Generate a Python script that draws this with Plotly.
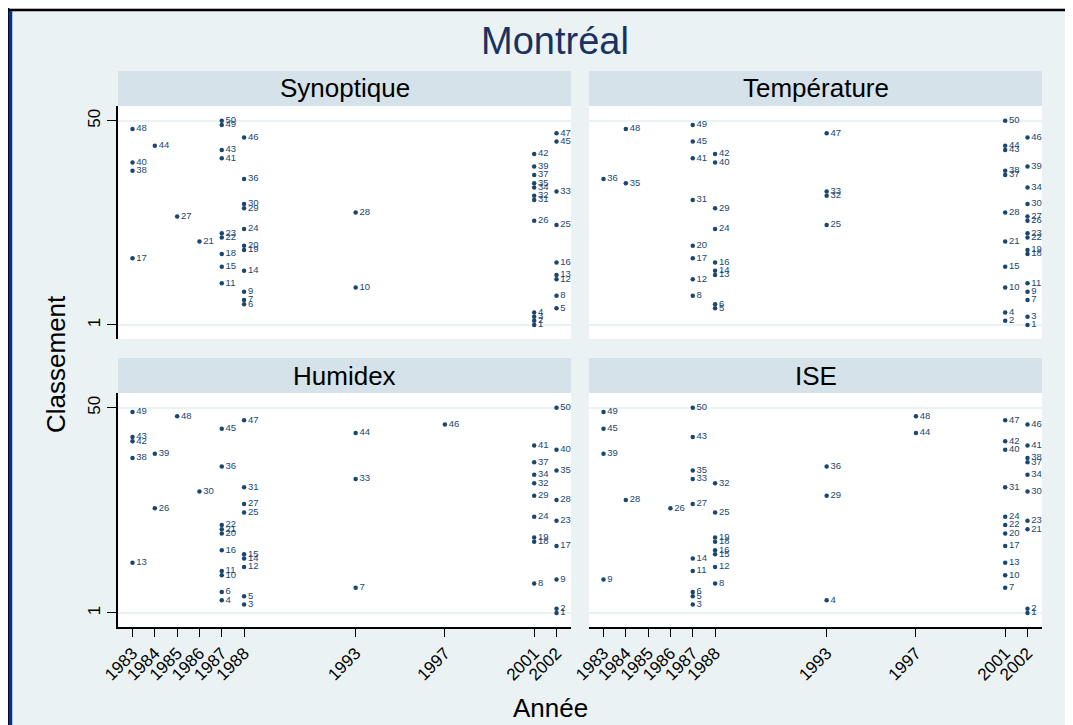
import plotly.graph_objects as go

# ---------------- data ----------------
rank = [1, 2, 3, 4, 5, 6, 7, 8, 9, 10,
        11, 12, 13, 14, 15, 16, 17, 18, 19, 20,
        21, 22, 23, 24, 25, 26, 27, 28, 29, 30,
        31, 32, 33, 34, 35, 36, 37, 38, 39, 40,
        41, 42, 43, 44, 45, 46, 47, 48, 49, 50]

synoptique_year = [2001, 2001, 2001, 2001, 2002, 1988, 1988, 2002, 1988, 1993,
                   1987, 2002, 2002, 1988, 1987, 2002, 1983, 1987, 1988, 1988,
                   1986, 1987, 1987, 1988, 2002, 2001, 1985, 1993, 1988, 1988,
                   2001, 2001, 2002, 2001, 2001, 1988, 2001, 1983, 2001, 1983,
                   1987, 2001, 1987, 1984, 2002, 1988, 2002, 1983, 1987, 1987]

temperature_year = [2002, 2001, 2002, 2001, 1988, 1988, 2002, 1987, 2002, 2001,
                    2002, 1987, 1988, 1988, 2001, 1988, 1987, 2002, 2002, 1987,
                    2001, 2002, 2002, 1988, 1993, 2002, 2002, 2001, 1988, 2002,
                    1987, 1993, 1993, 2002, 1984, 1983, 2001, 2001, 2002, 1988,
                    1987, 1988, 2001, 2001, 1987, 2002, 1993, 1984, 1987, 2001]

humidex_year = [2002, 2002, 1988, 1987, 1988, 1987, 1993, 2001, 2002, 1987,
                1987, 1988, 1983, 1988, 1988, 1987, 2002, 2001, 2001, 1987,
                1987, 1987, 2002, 2001, 1988, 1984, 1988, 2002, 2001, 1986,
                1988, 2001, 1993, 2001, 2002, 1987, 2001, 1983, 1984, 2002,
                2001, 1983, 1983, 1993, 1987, 1997, 1988, 1985, 1983, 2002]

ise_year = [2002, 2002, 1987, 1993, 1987, 1987, 2001, 1988, 1983, 2001,
            1987, 1988, 2001, 1987, 1988, 1988, 2001, 1988, 1988, 2001,
            2002, 2001, 2002, 2001, 1988, 1986, 1987, 1984, 1993, 2002,
            2001, 1988, 1987, 2002, 1987, 1993, 2002, 2002, 1983, 2001,
            2002, 2001, 1987, 1997, 1983, 2002, 2001, 1997, 1983, 1987]

panel_titles = ["Synoptique", "Température", "Humidex", "ISE"]
tick_years = [1983, 1984, 1985, 1986, 1987, 1988, 1993, 1997, 2001, 2002]
tick_year_labels = ["1983", "1984", "1985", "1986", "1987", "1988", "1993", "1997", "2001", "2002"]
y_ticks = [1, 50]
y_tick_labels = ["1", "50"]

# ---------------- layout geometry ----------------
# the page body adds an 8px margin, so the figure is 8px smaller and
# positions below are given in screen pixels
OFF = 8
W, H = 1073 - OFF, 725 - OFF
BG = "rgb(234,242,243)"
STRIP = "rgb(214,226,233)"
NAVY = "rgb(26,71,111)"
FONT = "Liberation Sans, Arial, sans-serif"


def px_x(v):
    return (v - OFF) / W


def px_y(v):
    return 1 - (v - OFF) / H


cols = [(118, 571), (589, 1042)]
rows = [(106, 339), (393, 627)]
strip_h = 35

fig = go.Figure()

series = [synoptique_year, temperature_year, humidex_year, ise_year]
shapes = []
annotations = []

for i, (yrs, title) in enumerate(zip(series, panel_titles)):
    r, c = divmod(i, 2)
    n = "" if i == 0 else str(i + 1)
    fig.add_trace(go.Scatter(
        x=yrs, y=rank, text=[str(v) for v in rank],
        mode="markers+text", textposition="middle right",
        marker=dict(color=NAVY, size=4.5),
        textfont=dict(color=NAVY, size=9.5, family=FONT),
        xaxis="x" + n, yaxis="y" + n, showlegend=False, cliponaxis=False,
        hoverinfo="x+y",
    ))
    x0, x1 = cols[c]
    y0, y1 = rows[r]
    bottom = (r == 1)
    left = (c == 0)
    fig.layout["xaxis" + n] = dict(
        domain=[px_x(x0), px_x(x1)], anchor="y" + n, automargin=False,
        range=[1982.35, 2002.65], tickvals=tick_years, ticktext=tick_year_labels,
        showgrid=False, zeroline=False,
        showline=bottom, linecolor="black", linewidth=1.5,
        ticks="outside" if bottom else "", ticklen=8, tickwidth=1.2, tickcolor="black",
        showticklabels=bottom, tickangle=-45,
        tickfont=dict(size=17, color="black", family=FONT),
        fixedrange=True,
    )
    fig.layout["yaxis" + n] = dict(
        domain=[px_y(y1), px_y(y0)], anchor="x" + n, automargin=False,
        range=[-2.36, 53.53], tickvals=y_ticks, ticktext=y_tick_labels,
        showgrid=True, gridcolor=BG, gridwidth=1.5, zeroline=False,
        showline=left, linecolor="black", linewidth=1.5,
        ticks="outside" if left else "", ticklen=9, tickwidth=1.2, tickcolor="black",
        showticklabels=left, tickangle=-90,
        tickfont=dict(size=17, color="black", family=FONT),
        fixedrange=True,
    )
    # plot background
    shapes.append(dict(type="rect", xref="paper", yref="paper", layer="below",
                       x0=px_x(x0), x1=px_x(x1), y0=px_y(y1), y1=px_y(y0),
                       fillcolor="white", line=dict(width=0)))
    # strip
    shapes.append(dict(type="rect", xref="paper", yref="paper", layer="below",
                       x0=px_x(x0), x1=px_x(x1), y0=px_y(y0), y1=px_y(y0 - strip_h),
                       fillcolor=STRIP, line=dict(width=0)))
    annotations.append(dict(text=title, xref="paper", yref="paper",
                            x=px_x((x0 + x1) / 2), y=px_y(y0 - strip_h / 2),
                            showarrow=False, xanchor="center", yanchor="middle",
                            font=dict(size=26, color="black", family=FONT)))

# frame
shapes.append(dict(type="line", xref="paper", yref="paper",
                   x0=0, x1=1, y0=px_y(10), y1=px_y(10),
                   line=dict(color="black", width=2.5)))
shapes.append(dict(type="line", xref="paper", yref="paper",
                   x0=px_x(8.5), x1=px_x(8.5), y0=0, y1=1,
                   line=dict(color="black", width=1.5)))
shapes.append(dict(type="line", xref="paper", yref="paper",
                   x0=px_x(10.5), x1=px_x(10.5), y0=0, y1=px_y(11),
                   line=dict(color="rgb(0,51,153)", width=3.5)))

annotations.append(dict(text="Montréal", xref="paper", yref="paper",
                        x=px_x(555), y=px_y(41), showarrow=False,
                        xanchor="center", yanchor="middle",
                        font=dict(size=38, color="rgb(26,50,95)", family=FONT)))
annotations.append(dict(text="Classement", xref="paper", yref="paper",
                        x=px_x(56), y=px_y(364), showarrow=False, textangle=-90,
                        xanchor="center", yanchor="middle",
                        font=dict(size=26, color="black", family=FONT)))
annotations.append(dict(text="Année", xref="paper", yref="paper",
                        x=px_x(550), y=px_y(708), showarrow=False,
                        xanchor="center", yanchor="middle",
                        font=dict(size=26, color="black", family=FONT)))

fig.update_layout(
    template="none",
    width=W, height=H, margin=dict(l=0, r=0, t=0, b=0, autoexpand=False),
    paper_bgcolor=BG, plot_bgcolor="rgba(0,0,0,0)",
    shapes=shapes, annotations=annotations,
    font=dict(family=FONT),
)

fig.write_html("out.html")
